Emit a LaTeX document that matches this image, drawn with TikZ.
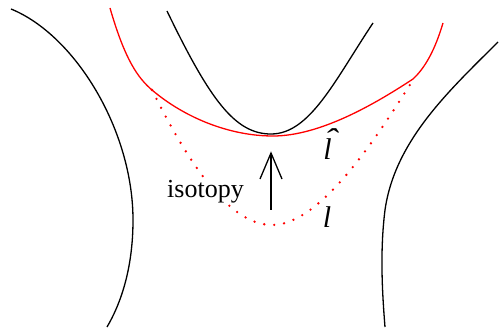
\documentclass[tikz,border=0pt]{standalone}
\usepackage{graphicx}
\usepackage{fontspec}
\setmainfont{Liberation Serif}
\begin{document}
\begin{tikzpicture}[x=1pt,y=-1pt,
  curve/.style={line width=1.3pt,black},
  redcurve/.style={line width=1.3pt,red},
  reddots/.style={line width=2.6pt,red,line cap=round,dash pattern=on 0pt off 10pt},
  lbl/.style={inner sep=0pt,anchor=base,fill=white,font=\fontsize{26}{30}\selectfont},
  mlbl/.style={inner sep=0pt,anchor=base,font=\fontsize{30}{34}\selectfont\itshape}]
\useasboundingbox (0,0) rectangle (499,329);
% left black curve
\draw[curve] (11,9) .. controls (75,35) and (133,130) .. (133,220)
  .. controls (133,270) and (120,305) .. (107,327);
% middle black curve
\draw[curve] (167,11) .. controls (210,100) and (235,134) .. (271,134)
  .. controls (310,134) and (335,80) .. (373,23);
% right black curve
\draw[curve] (498,42) .. controls (450,90) and (395,140) .. (385,210)
  .. controls (380,250) and (382,290) .. (385,327);
% red solid curve
\draw[redcurve] (110,8) .. controls (125,60) and (138,78) .. (152,90)
  .. controls (185,118) and (230,136) .. (273,136)
  .. controls (320,136) and (375,104) .. (413,79)
  .. controls (425,68) and (435,50) .. (443,23);
% red dotted curve
\draw[reddots] (152,90) .. controls (182,150) and (225,225) .. (272,225)
  .. controls (320,225) and (375,140) .. (413,80);
% arrow
\coordinate (a0) at (271,210);
\coordinate (a1) at (271,153);
\coordinate (b1) at (260,179);
\coordinate (b2) at (282,179);
\draw[curve] (a0) -- (a1);
\draw[curve,line join=miter] (b1) -- (a1) -- (b2);
% labels
\node[lbl] (iso) at (205.5,197) {isotopy};
\node[mlbl] (lhat) at (327.5,160) {\rlap{\hspace{0.5pt}\raisebox{10pt}{\scalebox{1.35}[1]{ˆ}}}l};
\node[mlbl] (l) at (327,227) {l};
\end{tikzpicture}
\end{document}
